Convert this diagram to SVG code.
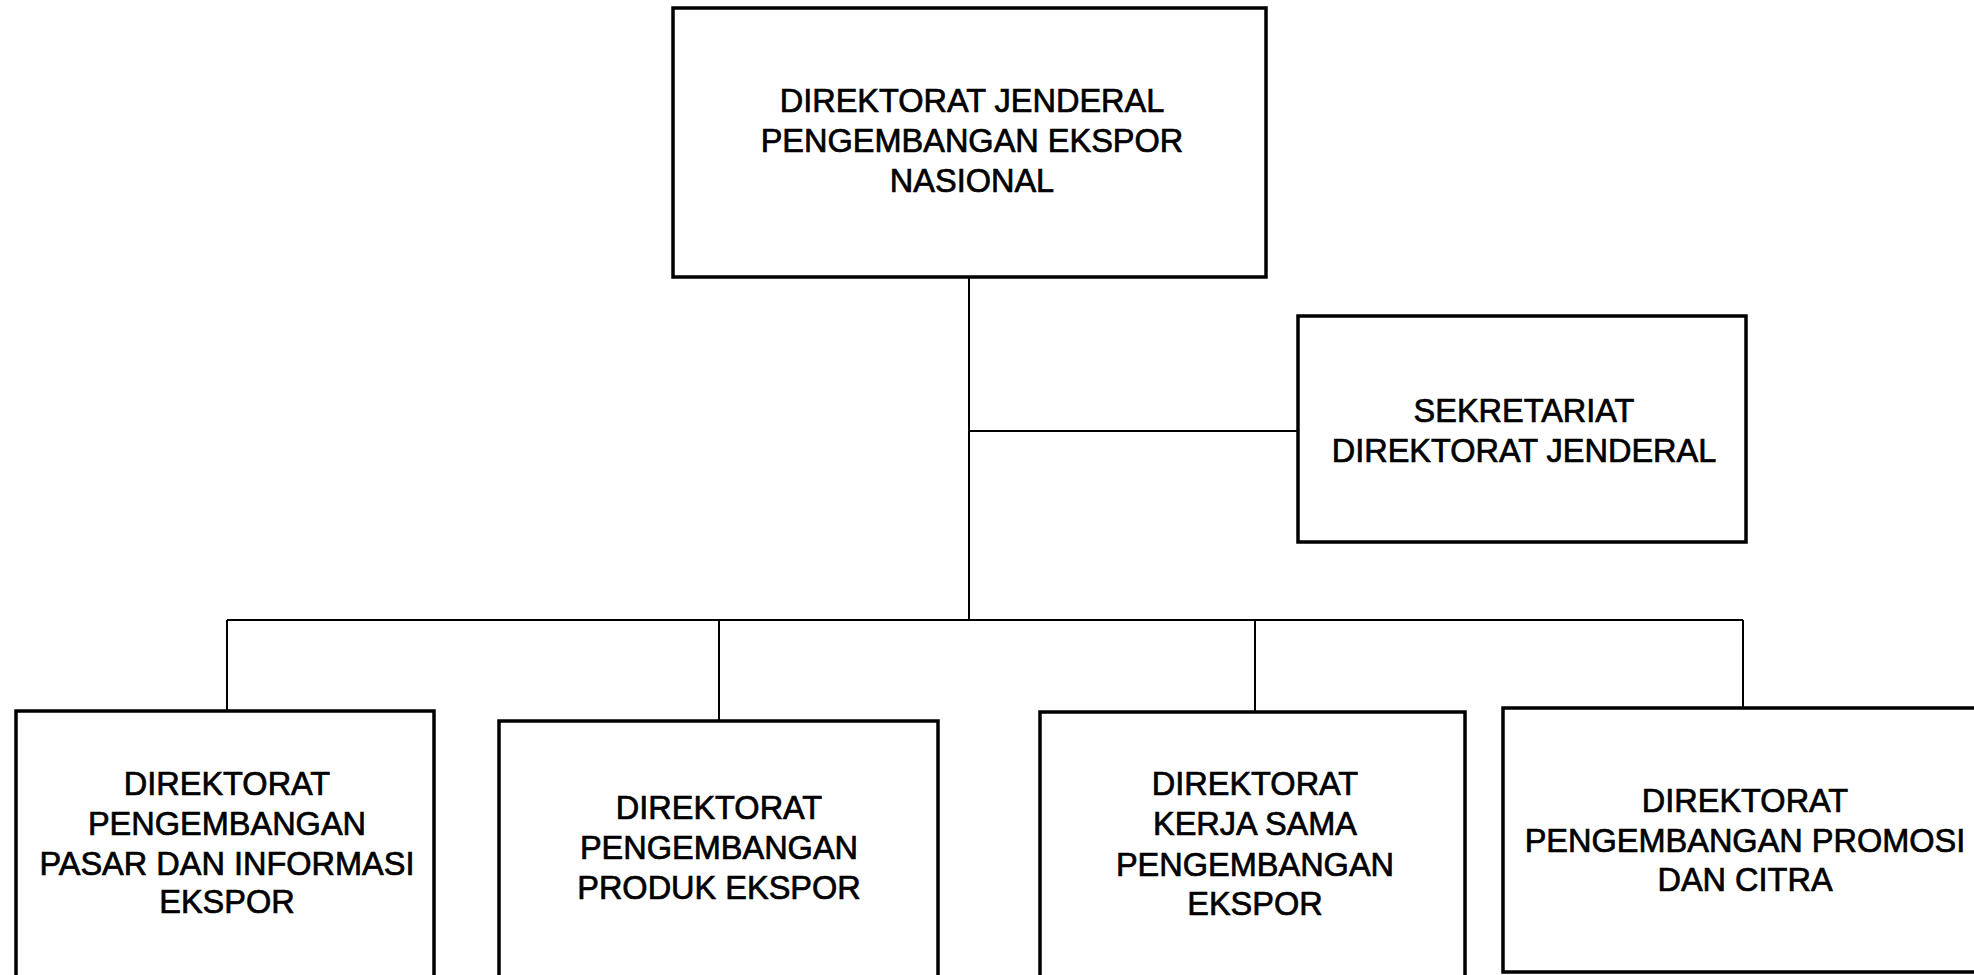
<svg xmlns="http://www.w3.org/2000/svg" width="1974" height="975" viewBox="0 0 1974 975">
<style>
.box{fill:#fff;stroke:#000;stroke-width:3.5}
.ln{fill:none;stroke:#000;stroke-width:2}
text{font-family:"Liberation Sans",Arial,sans-serif;font-size:32.5px;fill:#000;stroke:#000;stroke-width:0.7;text-anchor:middle}
</style>
<rect width="1974" height="975" fill="#fff"/>
<g id="connectors">
<line class="ln" x1="969" y1="277" x2="969" y2="620"/>
<line class="ln" x1="969" y1="431" x2="1298" y2="431"/>
<line class="ln" x1="227" y1="620" x2="1743" y2="620"/>
<line class="ln" x1="227" y1="620" x2="227" y2="711"/>
<line class="ln" x1="719" y1="620" x2="719" y2="721"/>
<line class="ln" x1="1255" y1="620" x2="1255" y2="712"/>
<line class="ln" x1="1743" y1="620" x2="1743" y2="708"/>
</g>
<g id="n-dirjen">
<rect class="box" x="673" y="8" width="593" height="269"/>
<text x="972" y="112">DIREKTORAT JENDERAL</text>
<text x="972" y="152">PENGEMBANGAN EKSPOR</text>
<text x="972" y="192">NASIONAL</text>
</g>
<g id="n-sekretariat">
<rect class="box" x="1298" y="316" width="448" height="226"/>
<text x="1524" y="422">SEKRETARIAT</text>
<text x="1524" y="462">DIREKTORAT JENDERAL</text>
</g>
<g id="n-pasar">
<rect class="box" x="16" y="711" width="418" height="274"/>
<text x="227" y="795">DIREKTORAT</text>
<text x="227" y="835">PENGEMBANGAN</text>
<text x="227" y="875">PASAR DAN INFORMASI</text>
<text x="227" y="913">EKSPOR</text>
</g>
<g id="n-produk">
<rect class="box" x="499" y="721" width="439" height="264"/>
<text x="719" y="819">DIREKTORAT</text>
<text x="719" y="859">PENGEMBANGAN</text>
<text x="719" y="899">PRODUK EKSPOR</text>
</g>
<g id="n-kerjasama">
<rect class="box" x="1040" y="712" width="425" height="273"/>
<text x="1255" y="795">DIREKTORAT</text>
<text x="1255" y="835">KERJA SAMA</text>
<text x="1255" y="876">PENGEMBANGAN</text>
<text x="1255" y="915">EKSPOR</text>
</g>
<g id="n-promosi">
<rect class="box" x="1503" y="708" width="490" height="264"/>
<text x="1745" y="812">DIREKTORAT</text>
<text x="1745" y="852">PENGEMBANGAN PROMOSI</text>
<text x="1745" y="891">DAN CITRA</text>
</g>
</svg>
